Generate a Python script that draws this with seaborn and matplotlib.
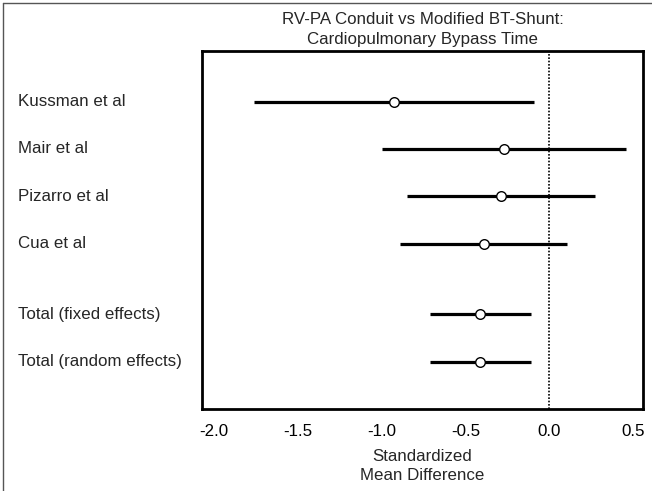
import matplotlib
matplotlib.use('Agg')
import matplotlib.pyplot as plt
import matplotlib.transforms as mtransforms
from matplotlib.lines import Line2D
import pandas as pd
import seaborn as sns

# Data
studies = ['Kussman et al', 'Mair et al', 'Pizarro et al', 'Cua et al',
           'Total (fixed effects)', 'Total (random effects)']
row_pos = [0, 1, 2, 3, 4.5, 5.5]
smd = [-0.925, -0.27, -0.29, -0.39, -0.413, -0.413]
ci_low = [-1.76, -1.00, -0.85, -0.89, -0.713, -0.713]
ci_high = [-0.09, 0.46, 0.27, 0.105, -0.11, -0.11]
xticks = [-2.0, -1.5, -1.0, -0.5, 0.0, 0.5]

df = pd.DataFrame({'study': studies, 'row': row_pos, 'smd': smd,
                   'lo': ci_low, 'hi': ci_high})

sns.set_style('white')
plt.rcParams['font.family'] = ['Liberation Sans', 'DejaVu Sans']
fs = 12.2

fig = plt.figure(figsize=(6.52, 4.91), dpi=100)
ax = fig.add_axes([0.310, 0.167, 0.676, 0.729])

# zero line
ax.axvline(0, color='black', linestyle=(0, (1, 1)), linewidth=1.2, zorder=1)

# confidence intervals
ax.hlines(df['row'], df['lo'], df['hi'], color='black', linewidth=2.3, zorder=2)

# point estimates
sns.scatterplot(data=df, x='smd', y='row', ax=ax, marker='o', s=48,
                facecolor='white', edgecolor='black', linewidth=1, zorder=3)

ax.set_xlim(-2.07, 0.558)
ax.set_ylim(6.5, -1.07)
ax.set_xticks(xticks)
ax.set_xticklabels([f'{t:.1f}' for t in xticks], fontsize=fs)
ax.set_yticks([])
ax.tick_params(axis='x', direction='in', length=6, width=1.5, pad=11, colors='black')
for sp in ax.spines.values():
    sp.set_visible(True)
    sp.set_color('black')
    sp.set_linewidth(2)

ax.set_xlabel('Standardized\nMean Difference', fontsize=fs, labelpad=7, linespacing=1.35)
ax.set_ylabel('')
ax.set_title('RV-PA Conduit vs Modified BT-Shunt:\nCardiopulmonary Bypass Time',
             fontsize=fs, pad=5, linespacing=1.4)

# study labels at the left of the figure
trans = mtransforms.blended_transform_factory(fig.transFigure, ax.transData)
for name, r in zip(studies, row_pos):
    ax.text(18 / 652, r, name, transform=trans, ha='left', va='center', fontsize=fs)

# thin outer frame (left and top)
fig.add_artist(Line2D([3 / 652, 3 / 652], [0, 1 - 3 / 491], transform=fig.transFigure,
                      color='#555555', linewidth=1))
fig.add_artist(Line2D([3 / 652, 1], [1 - 3 / 491, 1 - 3 / 491], transform=fig.transFigure,
                      color='#555555', linewidth=1))

fig.savefig('out.png', dpi=100)
